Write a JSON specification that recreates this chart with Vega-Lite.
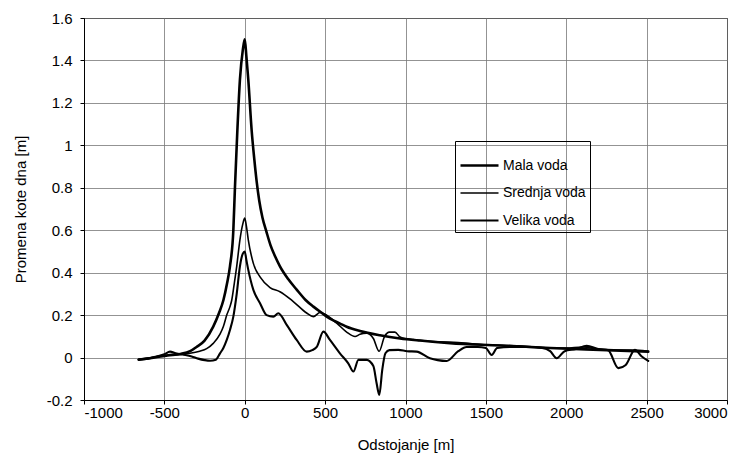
{
  "$schema": "https://vega.github.io/schema/vega-lite/v6.json",
  "width": 643,
  "height": 382,
  "autosize": {"type": "none"},
  "padding": {"left": 84, "top": 18, "right": 19, "bottom": 62},
  "background": "white",
  "config": {
    "font": "Liberation Sans",
    "view": {"stroke": "black", "strokeWidth": 1},
    "locale": {"number": {"decimal": ".", "thousands": ",", "grouping": [3], "currency": ["$", ""], "minus": "-"}},
    "axis": {
      "domainColor": "black", "tickColor": "black", "labelColor": "black", "titleColor": "black",
      "gridColor": "#777777", "gridWidth": 0.8, "labelFontSize": 15, "titleFontSize": 15,
      "titleFontWeight": "normal", "tickSize": 4
    }
  },
  "data": {"values": [
    {"serija": "Mala voda", "x": -660, "y": -0.01},
    {"serija": "Mala voda", "x": -560, "y": 0.0},
    {"serija": "Mala voda", "x": -480, "y": 0.01},
    {"serija": "Mala voda", "x": -400, "y": 0.017},
    {"serija": "Mala voda", "x": -340, "y": 0.03},
    {"serija": "Mala voda", "x": -300, "y": 0.05},
    {"serija": "Mala voda", "x": -250, "y": 0.08},
    {"serija": "Mala voda", "x": -196, "y": 0.146},
    {"serija": "Mala voda", "x": -160, "y": 0.21},
    {"serija": "Mala voda", "x": -133, "y": 0.27},
    {"serija": "Mala voda", "x": -110, "y": 0.35},
    {"serija": "Mala voda", "x": -92, "y": 0.43},
    {"serija": "Mala voda", "x": -71, "y": 0.6},
    {"serija": "Mala voda", "x": -61, "y": 0.8},
    {"serija": "Mala voda", "x": -46, "y": 1.07},
    {"serija": "Mala voda", "x": -30, "y": 1.31},
    {"serija": "Mala voda", "x": -12, "y": 1.45},
    {"serija": "Mala voda", "x": 0, "y": 1.5},
    {"serija": "Mala voda", "x": 10, "y": 1.42},
    {"serija": "Mala voda", "x": 22, "y": 1.31},
    {"serija": "Mala voda", "x": 43, "y": 1.07},
    {"serija": "Mala voda", "x": 60, "y": 0.93},
    {"serija": "Mala voda", "x": 74, "y": 0.83},
    {"serija": "Mala voda", "x": 90, "y": 0.74},
    {"serija": "Mala voda", "x": 110, "y": 0.66},
    {"serija": "Mala voda", "x": 136, "y": 0.59},
    {"serija": "Mala voda", "x": 160, "y": 0.53},
    {"serija": "Mala voda", "x": 190, "y": 0.475},
    {"serija": "Mala voda", "x": 219, "y": 0.43},
    {"serija": "Mala voda", "x": 270, "y": 0.37},
    {"serija": "Mala voda", "x": 323, "y": 0.32},
    {"serija": "Mala voda", "x": 380, "y": 0.27},
    {"serija": "Mala voda", "x": 427, "y": 0.24},
    {"serija": "Mala voda", "x": 480, "y": 0.21},
    {"serija": "Mala voda", "x": 530, "y": 0.183},
    {"serija": "Mala voda", "x": 593, "y": 0.16},
    {"serija": "Mala voda", "x": 634, "y": 0.145},
    {"serija": "Mala voda", "x": 717, "y": 0.125},
    {"serija": "Mala voda", "x": 841, "y": 0.105},
    {"serija": "Mala voda", "x": 966, "y": 0.09},
    {"serija": "Mala voda", "x": 1090, "y": 0.08},
    {"serija": "Mala voda", "x": 1277, "y": 0.068},
    {"serija": "Mala voda", "x": 1588, "y": 0.057},
    {"serija": "Mala voda", "x": 1899, "y": 0.045},
    {"serija": "Mala voda", "x": 2210, "y": 0.036},
    {"serija": "Mala voda", "x": 2510, "y": 0.028},

    {"serija": "Srednja voda", "x": -660, "y": -0.008},
    {"serija": "Srednja voda", "x": -560, "y": 0.003},
    {"serija": "Srednja voda", "x": -480, "y": 0.012},
    {"serija": "Srednja voda", "x": -400, "y": 0.015},
    {"serija": "Srednja voda", "x": -341, "y": 0.02},
    {"serija": "Srednja voda", "x": -280, "y": 0.03},
    {"serija": "Srednja voda", "x": -237, "y": 0.042},
    {"serija": "Srednja voda", "x": -196, "y": 0.067},
    {"serija": "Srednja voda", "x": -154, "y": 0.11},
    {"serija": "Srednja voda", "x": -133, "y": 0.146},
    {"serija": "Srednja voda", "x": -112, "y": 0.2},
    {"serija": "Srednja voda", "x": -92, "y": 0.24},
    {"serija": "Srednja voda", "x": -81, "y": 0.27},
    {"serija": "Srednja voda", "x": -65, "y": 0.35},
    {"serija": "Srednja voda", "x": -50, "y": 0.43},
    {"serija": "Srednja voda", "x": -30, "y": 0.555},
    {"serija": "Srednja voda", "x": -12, "y": 0.63},
    {"serija": "Srednja voda", "x": 0, "y": 0.657},
    {"serija": "Srednja voda", "x": 10, "y": 0.62},
    {"serija": "Srednja voda", "x": 22, "y": 0.555},
    {"serija": "Srednja voda", "x": 53, "y": 0.445},
    {"serija": "Srednja voda", "x": 95, "y": 0.38},
    {"serija": "Srednja voda", "x": 157, "y": 0.33},
    {"serija": "Srednja voda", "x": 219, "y": 0.31},
    {"serija": "Srednja voda", "x": 302, "y": 0.264},
    {"serija": "Srednja voda", "x": 385, "y": 0.21},
    {"serija": "Srednja voda", "x": 427, "y": 0.193},
    {"serija": "Srednja voda", "x": 468, "y": 0.212},
    {"serija": "Srednja voda", "x": 510, "y": 0.2},
    {"serija": "Srednja voda", "x": 572, "y": 0.162},
    {"serija": "Srednja voda", "x": 634, "y": 0.12},
    {"serija": "Srednja voda", "x": 686, "y": 0.099},
    {"serija": "Srednja voda", "x": 717, "y": 0.11},
    {"serija": "Srednja voda", "x": 758, "y": 0.115},
    {"serija": "Srednja voda", "x": 800, "y": 0.09},
    {"serija": "Srednja voda", "x": 836, "y": 0.03},
    {"serija": "Srednja voda", "x": 870, "y": 0.1},
    {"serija": "Srednja voda", "x": 900, "y": 0.12},
    {"serija": "Srednja voda", "x": 934, "y": 0.12},
    {"serija": "Srednja voda", "x": 966, "y": 0.097},
    {"serija": "Srednja voda", "x": 1000, "y": 0.09},
    {"serija": "Srednja voda", "x": 1050, "y": 0.085},
    {"serija": "Srednja voda", "x": 1100, "y": 0.08},
    {"serija": "Srednja voda", "x": 1200, "y": 0.074},
    {"serija": "Srednja voda", "x": 1300, "y": 0.072},
    {"serija": "Srednja voda", "x": 1400, "y": 0.066},
    {"serija": "Srednja voda", "x": 1500, "y": 0.06},
    {"serija": "Srednja voda", "x": 1600, "y": 0.058},
    {"serija": "Srednja voda", "x": 1700, "y": 0.055},
    {"serija": "Srednja voda", "x": 1800, "y": 0.05},
    {"serija": "Srednja voda", "x": 1900, "y": 0.045},
    {"serija": "Srednja voda", "x": 2000, "y": 0.045},
    {"serija": "Srednja voda", "x": 2100, "y": 0.05},
    {"serija": "Srednja voda", "x": 2200, "y": 0.04},
    {"serija": "Srednja voda", "x": 2300, "y": 0.035},
    {"serija": "Srednja voda", "x": 2400, "y": 0.035},
    {"serija": "Srednja voda", "x": 2510, "y": 0.03},

    {"serija": "Velika voda", "x": -660, "y": -0.01},
    {"serija": "Velika voda", "x": -600, "y": -0.005},
    {"serija": "Velika voda", "x": -550, "y": 0.005},
    {"serija": "Velika voda", "x": -500, "y": 0.016},
    {"serija": "Velika voda", "x": -465, "y": 0.028},
    {"serija": "Velika voda", "x": -430, "y": 0.02},
    {"serija": "Velika voda", "x": -369, "y": 0.012},
    {"serija": "Velika voda", "x": -330, "y": 0.005},
    {"serija": "Velika voda", "x": -290, "y": -0.005},
    {"serija": "Velika voda", "x": -250, "y": -0.012},
    {"serija": "Velika voda", "x": -216, "y": -0.015},
    {"serija": "Velika voda", "x": -180, "y": -0.01},
    {"serija": "Velika voda", "x": -154, "y": 0.02},
    {"serija": "Velika voda", "x": -133, "y": 0.045},
    {"serija": "Velika voda", "x": -112, "y": 0.083},
    {"serija": "Velika voda", "x": -92, "y": 0.13},
    {"serija": "Velika voda", "x": -71, "y": 0.193},
    {"serija": "Velika voda", "x": -50, "y": 0.3},
    {"serija": "Velika voda", "x": -30, "y": 0.43},
    {"serija": "Velika voda", "x": -12, "y": 0.49},
    {"serija": "Velika voda", "x": 0, "y": 0.5},
    {"serija": "Velika voda", "x": 10, "y": 0.46},
    {"serija": "Velika voda", "x": 22, "y": 0.413},
    {"serija": "Velika voda", "x": 53, "y": 0.32},
    {"serija": "Velika voda", "x": 95, "y": 0.256},
    {"serija": "Velika voda", "x": 136, "y": 0.2},
    {"serija": "Velika voda", "x": 178, "y": 0.193},
    {"serija": "Velika voda", "x": 209, "y": 0.209},
    {"serija": "Velika voda", "x": 261, "y": 0.154},
    {"serija": "Velika voda", "x": 323, "y": 0.083},
    {"serija": "Velika voda", "x": 385, "y": 0.028},
    {"serija": "Velika voda", "x": 420, "y": 0.035},
    {"serija": "Velika voda", "x": 448, "y": 0.05},
    {"serija": "Velika voda", "x": 489, "y": 0.122},
    {"serija": "Velika voda", "x": 530, "y": 0.083},
    {"serija": "Velika voda", "x": 592, "y": 0.02},
    {"serija": "Velika voda", "x": 644, "y": -0.027},
    {"serija": "Velika voda", "x": 676, "y": -0.066},
    {"serija": "Velika voda", "x": 707, "y": -0.011},
    {"serija": "Velika voda", "x": 758, "y": -0.011},
    {"serija": "Velika voda", "x": 800, "y": -0.04},
    {"serija": "Velika voda", "x": 820, "y": -0.12},
    {"serija": "Velika voda", "x": 837, "y": -0.176},
    {"serija": "Velika voda", "x": 855, "y": -0.06},
    {"serija": "Velika voda", "x": 875, "y": 0.02},
    {"serija": "Velika voda", "x": 900, "y": 0.035},
    {"serija": "Velika voda", "x": 955, "y": 0.036},
    {"serija": "Velika voda", "x": 1010, "y": 0.03},
    {"serija": "Velika voda", "x": 1069, "y": 0.028},
    {"serija": "Velika voda", "x": 1152, "y": -0.003},
    {"serija": "Velika voda", "x": 1200, "y": -0.012},
    {"serija": "Velika voda", "x": 1256, "y": -0.016},
    {"serija": "Velika voda", "x": 1328, "y": 0.03},
    {"serija": "Velika voda", "x": 1380, "y": 0.05},
    {"serija": "Velika voda", "x": 1450, "y": 0.05},
    {"serija": "Velika voda", "x": 1500, "y": 0.045},
    {"serija": "Velika voda", "x": 1536, "y": 0.012},
    {"serija": "Velika voda", "x": 1570, "y": 0.045},
    {"serija": "Velika voda", "x": 1650, "y": 0.05},
    {"serija": "Velika voda", "x": 1750, "y": 0.05},
    {"serija": "Velika voda", "x": 1850, "y": 0.045},
    {"serija": "Velika voda", "x": 1900, "y": 0.03},
    {"serija": "Velika voda", "x": 1940, "y": -0.003},
    {"serija": "Velika voda", "x": 1990, "y": 0.03},
    {"serija": "Velika voda", "x": 2060, "y": 0.04},
    {"serija": "Velika voda", "x": 2127, "y": 0.055},
    {"serija": "Velika voda", "x": 2200, "y": 0.04},
    {"serija": "Velika voda", "x": 2260, "y": 0.035},
    {"serija": "Velika voda", "x": 2324, "y": -0.05},
    {"serija": "Velika voda", "x": 2370, "y": -0.035},
    {"serija": "Velika voda", "x": 2427, "y": 0.036},
    {"serija": "Velika voda", "x": 2470, "y": 0.005},
    {"serija": "Velika voda", "x": 2510, "y": -0.016}
  ]},
  "mark": {"type": "line", "interpolate": "monotone", "strokeJoin": "round", "strokeCap": "round"},
  "encoding": {
    "x": {
      "field": "x", "type": "quantitative",
      "scale": {"domain": [-1000, 3000], "nice": false, "zero": false},
      "axis": {
        "values": [-1000, -500, 0, 500, 1000, 1500, 2000, 2500, 3000],
        "format": "d", "title": "Odstojanje [m]", "labelPadding": 1, "titlePadding": 17
      }
    },
    "y": {
      "field": "y", "type": "quantitative",
      "scale": {"domain": [-0.2, 1.6], "nice": false, "zero": false},
      "axis": {
        "values": [-0.2, 0, 0.2, 0.4, 0.6, 0.8, 1, 1.2, 1.4, 1.6],
        "format": ".1~f", "title": "Promena kote dna [m]", "labelPadding": 8, "titlePadding": 18
      }
    },
    "color": {
      "field": "serija", "type": "nominal",
      "scale": {"domain": ["Mala voda", "Srednja voda", "Velika voda"], "range": ["black", "black", "black"]},
      "legend": {
        "title": null, "orient": "none", "legendX": 371, "legendY": 123,
        "symbolType": "stroke", "symbolSize": 1444, "labelFontSize": 14, "labelColor": "black",
        "rowPadding": -13.5, "padding": 4, "strokeColor": "black", "labelOffset": 3
      }
    },
    "strokeWidth": {
      "field": "serija", "type": "nominal",
      "scale": {"type": "ordinal", "domain": ["Mala voda", "Srednja voda", "Velika voda"], "range": [2.6, 1.6, 2.1]},
      "legend": {
        "title": null, "orient": "none", "legendX": 371, "legendY": 123,
        "symbolType": "stroke", "symbolSize": 1444, "labelFontSize": 14, "labelColor": "black",
        "rowPadding": -13.5, "padding": 4, "strokeColor": "black", "labelOffset": 3
      }
    }
  }
}
